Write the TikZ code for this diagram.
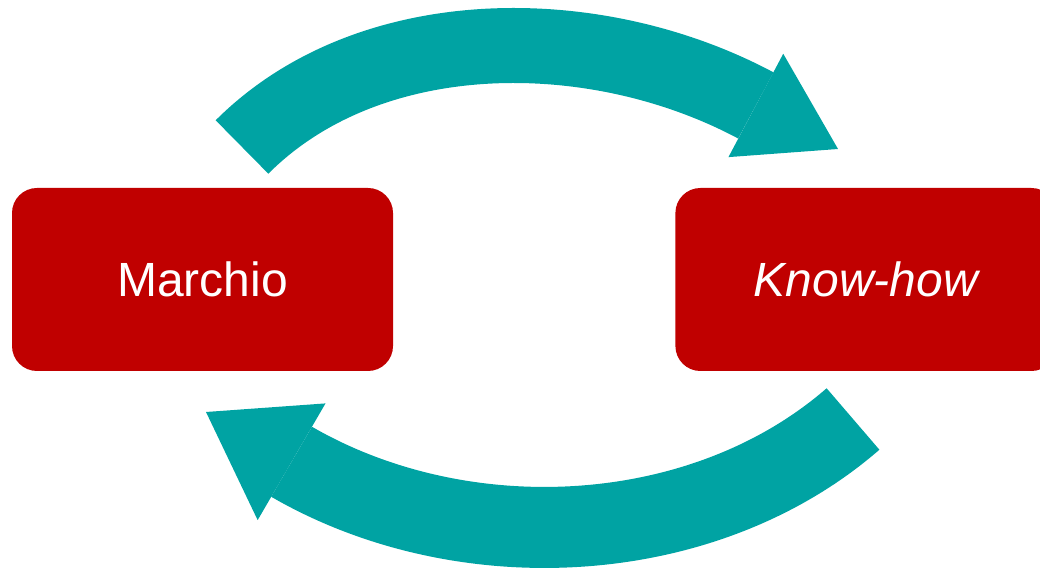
\documentclass[tikz,border=0pt]{standalone}
\usepackage{fontspec}
\setmainfont{Liberation Sans}
\usetikzlibrary{positioning,arrows.meta}
\definecolor{boxred}{HTML}{C00000}
\definecolor{arrowteal}{HTML}{00A3A3}

\begin{document}
\begin{tikzpicture}[x=1pt,y=1pt,
        boxnode/.style={rectangle, rounded corners=25pt, fill=boxred, text=white, minimum width=381pt, minimum height=183pt, font=\fontsize{48}{58}\selectfont},
        bigarrow/.style={draw=arrowteal, line cap=butt}]
        \useasboundingbox (0,0) rectangle (1040,570);

        \node[boxnode] (marchio) at (202.5,290.5) {Marchio};
        \node[boxnode] (knowhow) [right=282pt of marchio] {\itshape Know-how};

        % top arrow
        \coordinate (t1) at (242,423);
        \coordinate (h1) at (755,465);
        \coordinate (p1) at (838,421);
        \draw[bigarrow, line width=75pt, -{Triangle[length=93pt,width=117pt,line width=0pt]}] (t1) to[out=45,in=152,looseness=0.9] (h1) -- (p1);

        % bottom arrow
        \coordinate (t2) at (853,151);
        \coordinate (h2) at (292,108);
        \coordinate (p2) at (206,158);
        \draw[bigarrow, line width=81pt, -{Triangle[length=99pt,width=135pt,line width=0pt]}] (t2) to[out=221,in=-30,looseness=0.9] (h2) -- (p2);

\end{tikzpicture}
\end{document}
